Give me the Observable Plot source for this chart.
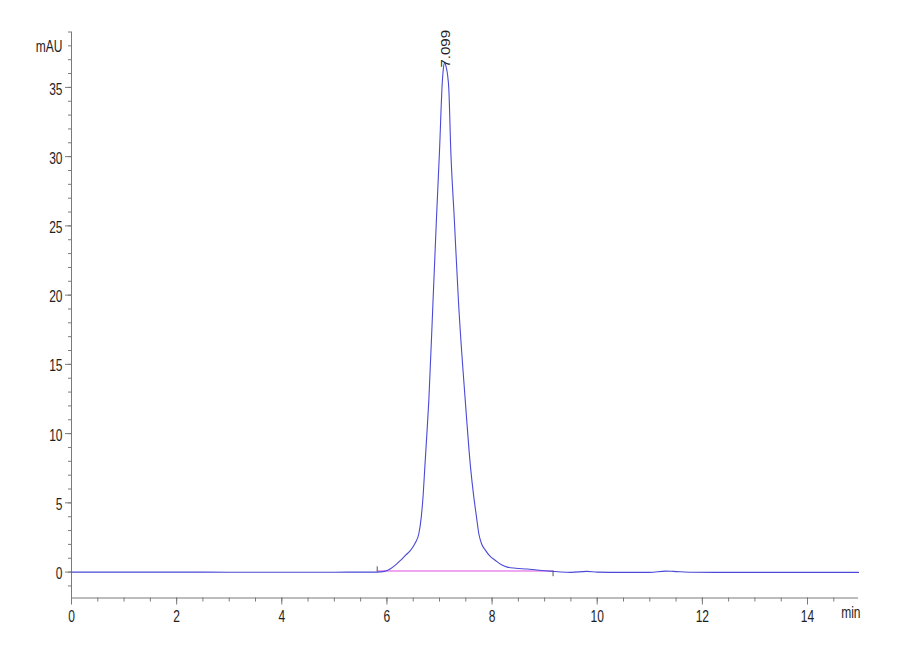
<!DOCTYPE html>
<html><head><meta charset="utf-8">
<script src="https://cdn.jsdelivr.net/npm/d3@7"></script>
<script src="https://cdn.jsdelivr.net/npm/@observablehq/plot@0.6"></script>
<style>
html,body{margin:0;padding:0;background:#fff;overflow:hidden}
#chart svg{display:block}
</style></head><body><div id="chart"></div>
<script>
// Chromatogram trace (retention time in min, absorbance in mAU)
const timeMin = [0, 1, 2, 3, 4, 5, 5.5, 5.815, 5.95, 6.068, 6.16, 6.258, 6.35, 6.449, 6.53, 6.607, 6.653, 6.69, 6.721, 6.76, 6.797, 6.877, 6.943, 7.0, 7.052, 7.075, 7.099, 7.125, 7.15, 7.177, 7.215, 7.28, 7.36, 7.49, 7.59, 7.65, 7.704, 7.748, 7.8, 7.875, 7.96, 8.065, 8.17, 8.288, 8.45, 8.669, 8.85, 9.0, 9.16, 9.3, 9.5, 9.8, 10.0, 10.5, 11.0, 11.3, 11.45, 11.8, 12.3, 13.0, 14.0, 14.97];
const signalMAU = [0, 0, 0, -0.01, -0.01, -0.01, 0, 0, 0.05, 0.24, 0.5, 0.84, 1.2, 1.57, 2.05, 2.77, 3.97, 5.6, 7.58, 10.0, 12.4, 19.6, 25.6, 30.4, 35.3, 36.4, 36.8, 36.5, 36.0, 34.9, 30.4, 25.6, 19.6, 12.4, 7.58, 5.5, 3.97, 2.77, 2.05, 1.57, 1.15, 0.84, 0.55, 0.36, 0.28, 0.22, 0.15, 0.1, 0.05, 0.01, -0.02, 0.05, 0.0, -0.02, -0.02, 0.07, 0.05, -0.01, -0.02, -0.02, -0.02, -0.02];

// Integration baseline and peak start/end markers
const baselineTime = [5.815, 9.16];
const baselineMAU = [0.08, 0.08];
const markerTime = [5.815, 9.16];
const markerFrom = [0.0, 0.05];
const markerTo = [0.38, -0.33];

// Peak annotation
const peakTime = [7.099];
const peakMAU = [36.8];
const peakLabel = ["7.099"];

// Axes
const xDomain = [0, 14.97];
const yDomain = [-1.87, 39];
const xMajorTicks = [0, 2, 4, 6, 8, 10, 12, 14];
const xMinorTicks = d3.range(0, 14.75, 0.5);
const yMajorTicks = [0, 5, 10, 15, 20, 25, 30, 35];
const yMinorTicks = d3.range(-1, 40, 1);
const xUnit = ["min"];
const yUnit = ["mAU"];

const FONT = "'Liberation Sans', Arial, sans-serif";
const AXIS = "#7a7a7a";
const INK = "#1e1e1e";

const trace = timeMin.map((t, i) => ({t, v: signalMAU[i]}));
const base = baselineTime.map((t, i) => ({t, v: baselineMAU[i]}));
const markers = markerTime.map((t, i) => ({t, a: markerFrom[i], b: markerTo[i]}));
const peaks = peakTime.map((t, i) => ({t, v: peakMAU[i], label: peakLabel[i]}));

const chart = Plot.plot({
  width: 900,
  height: 660,
  marginLeft: 71,
  marginRight: 42,
  marginTop: 31.5,
  marginBottom: 62.5,
  x: {domain: xDomain},
  y: {domain: yDomain},
  style: {fontFamily: FONT, fontSize: "16px", color: INK, background: "#fff"},
  marks: [
    Plot.axisX({ticks: xMinorTicks, tickSize: 4, tickFormat: () => "", stroke: AXIS, label: null}),
    Plot.axisX({ticks: xMajorTicks, tickSize: 7, tickPadding: 6, stroke: AXIS, fill: INK, label: null, fontSize: 16}),
    Plot.axisY({ticks: yMinorTicks, tickSize: 3, tickFormat: () => "", stroke: AXIS, label: null}),
    Plot.axisY({ticks: yMajorTicks, tickSize: 6, tickPadding: 3, stroke: AXIS, fill: INK, label: null, fontSize: 16}),
    Plot.ruleX([xDomain[0]], {stroke: AXIS}),
    Plot.ruleY([yDomain[0]], {stroke: AXIS}),
    Plot.line(base, {x: "t", y: "v", stroke: "#e04fe0", strokeWidth: 1}),
    Plot.line(trace, {x: "t", y: "v", stroke: "#4a4ad6", strokeWidth: 1.1, curve: "monotone-x"}),
    Plot.ruleX(markers, {x: "t", y1: "a", y2: "b", stroke: "#555", strokeWidth: 1}),
    Plot.text(peaks, {x: "t", y: "v", text: "label", rotate: -90, textAnchor: "start", dx: 1, dy: 5, fill: INK, fontSize: 15}),
    Plot.text(yUnit, {frameAnchor: "top-left", text: d => d, textAnchor: "end", dx: -9, dy: 8.5, fill: INK, fontSize: 16}),
    Plot.text(xUnit, {frameAnchor: "bottom-right", text: d => d, textAnchor: "end", dx: 2, dy: 19.5, fill: INK, fontSize: 16})
  ]
});
// condensed lettering, as in the reference (horizontal squeeze about each text's anchor)
chart.querySelectorAll("text").forEach(el => {
  const tr = el.getAttribute("transform") || "";
  if (!tr) return;
  const g = el.closest("g[aria-label]");
  const isYLabel = g && g.getAttribute("aria-label") === "y-axis tick label";
  if (tr.includes("rotate")) el.setAttribute("transform", tr + " scale(1,0.85)");
  else el.setAttribute("transform", tr + (isYLabel ? " translate(0,2)" : "") + " scale(0.75,1)");
});
document.getElementById("chart").appendChild(chart);
</script>
</body></html>
